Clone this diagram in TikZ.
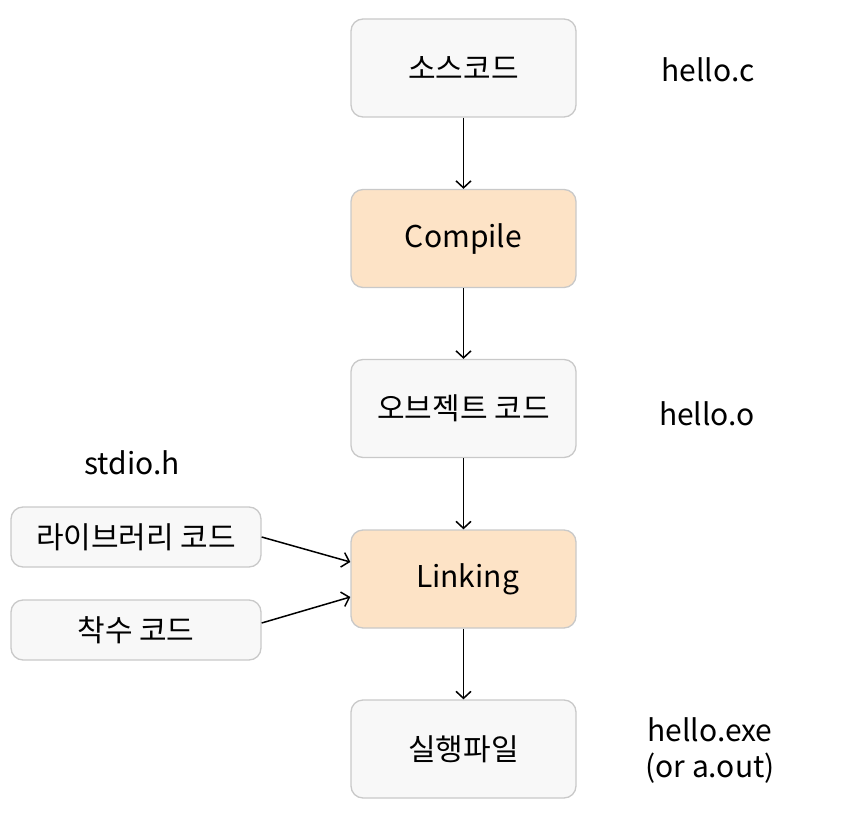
\documentclass[tikz,border=0pt]{standalone}
\usepackage{fontspec}
\setmainfont{Noto Sans CJK KR}
\usepackage{tikz}
\usetikzlibrary{arrows.meta}
\begin{document}
\begin{tikzpicture}[x=1pt,y=-1pt]

% page size of the reference
\useasboundingbox (0,0) rectangle (848,818);

% colours
\definecolor{boxgray}{HTML}{F8F8F8}
\definecolor{boxline}{HTML}{C9C9C9}
\definecolor{boxorange}{HTML}{FDE3C6}
% size of each box
\def\bw{225pt}
\def\bh{98pt}
% node style definition
\tikzstyle{block} = [
	draw=boxline, fill=boxgray, rectangle, rounded corners=12pt, line width=1.3pt,
	minimum height=\bh, minimum width=\bw, font=\fontsize{30}{36}\selectfont ];
\tikzstyle{stage} = [block, fill=boxorange];
\tikzstyle{side} = [block, minimum height=60pt, minimum width=250pt];
\tikzstyle{plain} = [draw=none, fill=none, font=\fontsize{30}{36}\selectfont, align=center];
\tikzstyle{flow} = [-{Straight Barb[length=7pt,width=15pt]}, line width=1.5pt];

\node[block] (src) at (463.5,68) {소스코드};
\node[stage] (comp) at (463.5,238.5) {Compile};
\node[block] (obj) at (463.5,408.5) {오브젝트 코드};
\node[stage] (link) at (463.5,579) {\hspace{8pt}Linking};
\node[block] (exe) at (463.5,749) {실행파일};

\node[side] (lib) at (136,537) {라이브러리 코드};
\node[side] (boot) at (136,630) {착수 코드};

\node[plain] (srcname) at (708,70) {hello.c};
\node[plain] (objname) at (707,414) {hello.o};
\node[plain] (libname) at (132,463) {stdio.h};
\node[plain] (exename) at (710,750) {hello.exe\\(or a.out)};

\draw[flow] (src) -- (comp);
\draw[flow] (comp) -- (obj);
\draw[flow] (obj) -- (link);
\draw[flow] (link) -- (exe);

\draw[flow] (lib.east) -- ([yshift=17pt]link.west);
\draw[flow] ([yshift=7pt]boot.east) -- ([yshift=-18pt]link.west);

\end{tikzpicture}
\end{document}
